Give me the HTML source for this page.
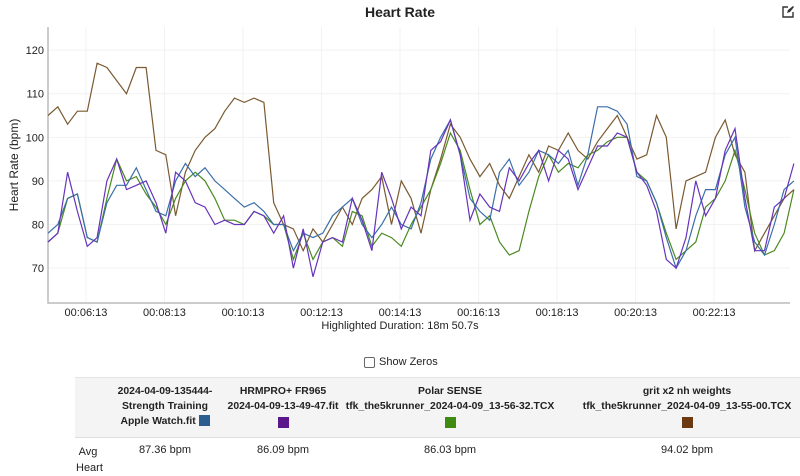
<!DOCTYPE html>
<html><head><meta charset="utf-8"><style>
body{margin:0;width:800px;height:465px;overflow:hidden;background:#fff;font-family:"Liberation Sans",sans-serif;color:#222;position:relative}
.a{position:absolute}
.h{white-space:nowrap;font-size:10.4px!important}
</style></head><body>
<div class="a" style="left:0;width:800px;top:4px;text-align:center;font-weight:bold;font-size:14px">Heart Rate</div>
<svg class="a" style="left:782px;top:6px" width="12" height="12" viewBox="0 0 12 12"><path d="M6 1H1v10h10V6" fill="none" stroke="#333" stroke-width="1.4"/><path d="M5 7l1-3 5-4 1 1-4 5z" fill="#333"/></svg>
<svg class="a" id="chart" style="left:0;top:0" width="800" height="340"></svg>
<div class="a" style="left:0;width:800px;top:320px;text-align:center;font-size:11px">Highlighted Duration: 18m 50.7s</div>
<div class="a" style="left:364px;top:356px;font-size:11px;display:flex;align-items:center"><span style="display:inline-block;width:9px;height:9px;border:1px solid #666;border-radius:2px;margin-right:4px"></span>Show Zeros</div>
<div class="a" style="left:75px;top:377px;width:725px;height:59px;background:#f4f4f4;border-top:1px solid #e4e4e4;border-bottom:1px solid #ddd"></div>
<div class="a h" style="left:105px;top:384px;width:120px;text-align:center;font-size:11px;font-weight:bold;line-height:15px">2024-04-09-135444-<br>Strength Training<br>Apple Watch.fit <span style="display:inline-block;width:11px;height:11px;background:#2c5d8f;vertical-align:-2px"></span></div>
<div class="a h" style="left:223px;top:384px;width:120px;text-align:center;font-size:11px;font-weight:bold;line-height:15px">HRMPRO+ FR965<br>2024-04-09-13-49-47.fit<br><span style="display:inline-block;width:11px;height:11px;background:#5a168a;margin-top:3px"></span></div>
<div class="a h" style="left:345px;top:384px;width:210px;text-align:center;font-size:11px;font-weight:bold;line-height:15px">Polar SENSE<br>tfk_the5krunner_2024-04-09_13-56-32.TCX<br><span style="display:inline-block;width:11px;height:11px;background:#3f8a10;margin-top:3px"></span></div>
<div class="a h" style="left:577px;top:384px;width:220px;text-align:center;font-size:11px;font-weight:bold;line-height:15px">grit x2 nh weights<br>tfk_the5krunner_2024-04-09_13-55-00.TCX<br><span style="display:inline-block;width:11px;height:11px;background:#6b3a12;margin-top:3px"></span></div>
<div class="a" style="left:76px;top:444px;width:24px;text-align:center;font-size:11px;line-height:16px">Avg<br>Heart</div>
<div class="a" style="left:105px;top:444px;width:120px;text-align:center;font-size:11px">87.36 bpm</div>
<div class="a" style="left:223px;top:444px;width:120px;text-align:center;font-size:11px">86.09 bpm</div>
<div class="a" style="left:345px;top:444px;width:210px;text-align:center;font-size:11px">86.03 bpm</div>
<div class="a" style="left:577px;top:444px;width:220px;text-align:center;font-size:11px">94.02 bpm</div>
<script>
const yTicks=[70,80,90,100,110,120];
const xTickLabels=["00:06:13","00:08:13","00:10:13","00:12:13","00:14:13","00:16:13","00:18:13","00:20:13","00:22:13"];
const xTickSeconds=[373,493,613,733,853,973,1093,1213,1333];
const startSec=315, stepSec=15;
const appleWatch=[78,80,86,87,77,76,85,89,89,93,88,83,82,90,94,91,93,90,88,86,84,85,83,80,80,74,78,77,78,82,84,86,80,77,80,84,80,79,85,95,100,104,96,86,83,81,92,95,89,92,97,96,94,97,89,96,107,107,106,103,91,90,85,77,70,74,82,88,88,96,100,84,76,73,80,88,90];
const hrmpro=[76,78,92,83,75,77,90,95,88,89,90,85,78,92,90,85,84,80,81,80,80,83,82,78,82,70,79,68,76,77,76,86,81,74,92,86,79,84,82,97,99,104,96,81,87,84,83,93,90,94,97,90,97,95,88,93,98,98,101,100,92,89,83,72,70,77,90,82,86,97,102,86,74,74,84,86,94];
const polar=[76,78,86,87,77,76,86,95,90,91,87,84,80,86,90,92,90,86,81,81,80,83,82,80,80,72,78,72,76,77,75,83,82,75,78,77,75,80,84,88,94,101,97,88,80,82,76,73,74,83,91,96,92,94,93,96,97,99,100,100,92,90,85,78,72,74,76,84,86,90,97,88,78,73,74,78,88];
const grit=[105,107,103,106,106,117,116,113,110,116,116,97,96,82,92,97,100,102,106,109,108,109,108,85,80,79,74,79,76,80,84,80,86,88,91,80,90,86,78,88,95,103,100,95,91,94,89,86,91,96,92,98,97,101,97,95,99,102,105,100,95,96,105,100,79,90,91,92,100,104,96,92,74,78,82,86,88];
const L=48,R=790,T=27,B=303,xMin=315,xMax=1449,yMin=62,yMax=125.3;
const xs=s=>L+(s-xMin)/(xMax-xMin)*(R-L);
const ys=v=>B-(v-yMin)/(yMax-yMin)*(B-T);
const svg=document.getElementById('chart');const NS='http://www.w3.org/2000/svg';
function mk(t,a){const e=document.createElementNS(NS,t);for(const k in a)e.setAttribute(k,a[k]);svg.appendChild(e);return e;}
yTicks.forEach(v=>{const g=mk('line',{x1:L,x2:R,y1:ys(v),y2:ys(v),stroke:'#f2f2f2'});


const t=mk('text',{x:L-4,y:ys(v)+4,'text-anchor':'end','font-size':11,fill:'#222'});t.textContent=v;

});
xTickSeconds.forEach((s,i)=>{const g=mk('line',{x1:xs(s),x2:xs(s),y1:T,y2:B,stroke:'#f2f2f2'});


const t=mk('text',{x:xs(s),y:B+13,'text-anchor':'middle','font-size':11,fill:'#222'});t.textContent=xTickLabels[i];

});
const ax=mk('path',{d:`M${L} ${T}V${B}H${R}`,fill:'none',stroke:'#bbb','stroke-width':1.5});


const yt=mk('text',{transform:`translate(18,${(T+B)/2}) rotate(-90)`,'text-anchor':'middle','font-size':12,fill:'#222'});yt.textContent='Heart Rate (bpm)';


[[grit,'#7a5a30','line-grit'],[polar,'#4a8a20','line-polar'],[appleWatch,'#3a6ea8','line-apple-watch'],[hrmpro,'#6633bb','line-hrmpro']].forEach(([d,c,n])=>{
const p=mk('polyline',{points:d.map((v,i)=>xs(startSec+i*stepSec).toFixed(1)+','+ys(v).toFixed(1)).join(' '),fill:'none',stroke:c,'stroke-width':1.2});

});
</script>
</body></html>
